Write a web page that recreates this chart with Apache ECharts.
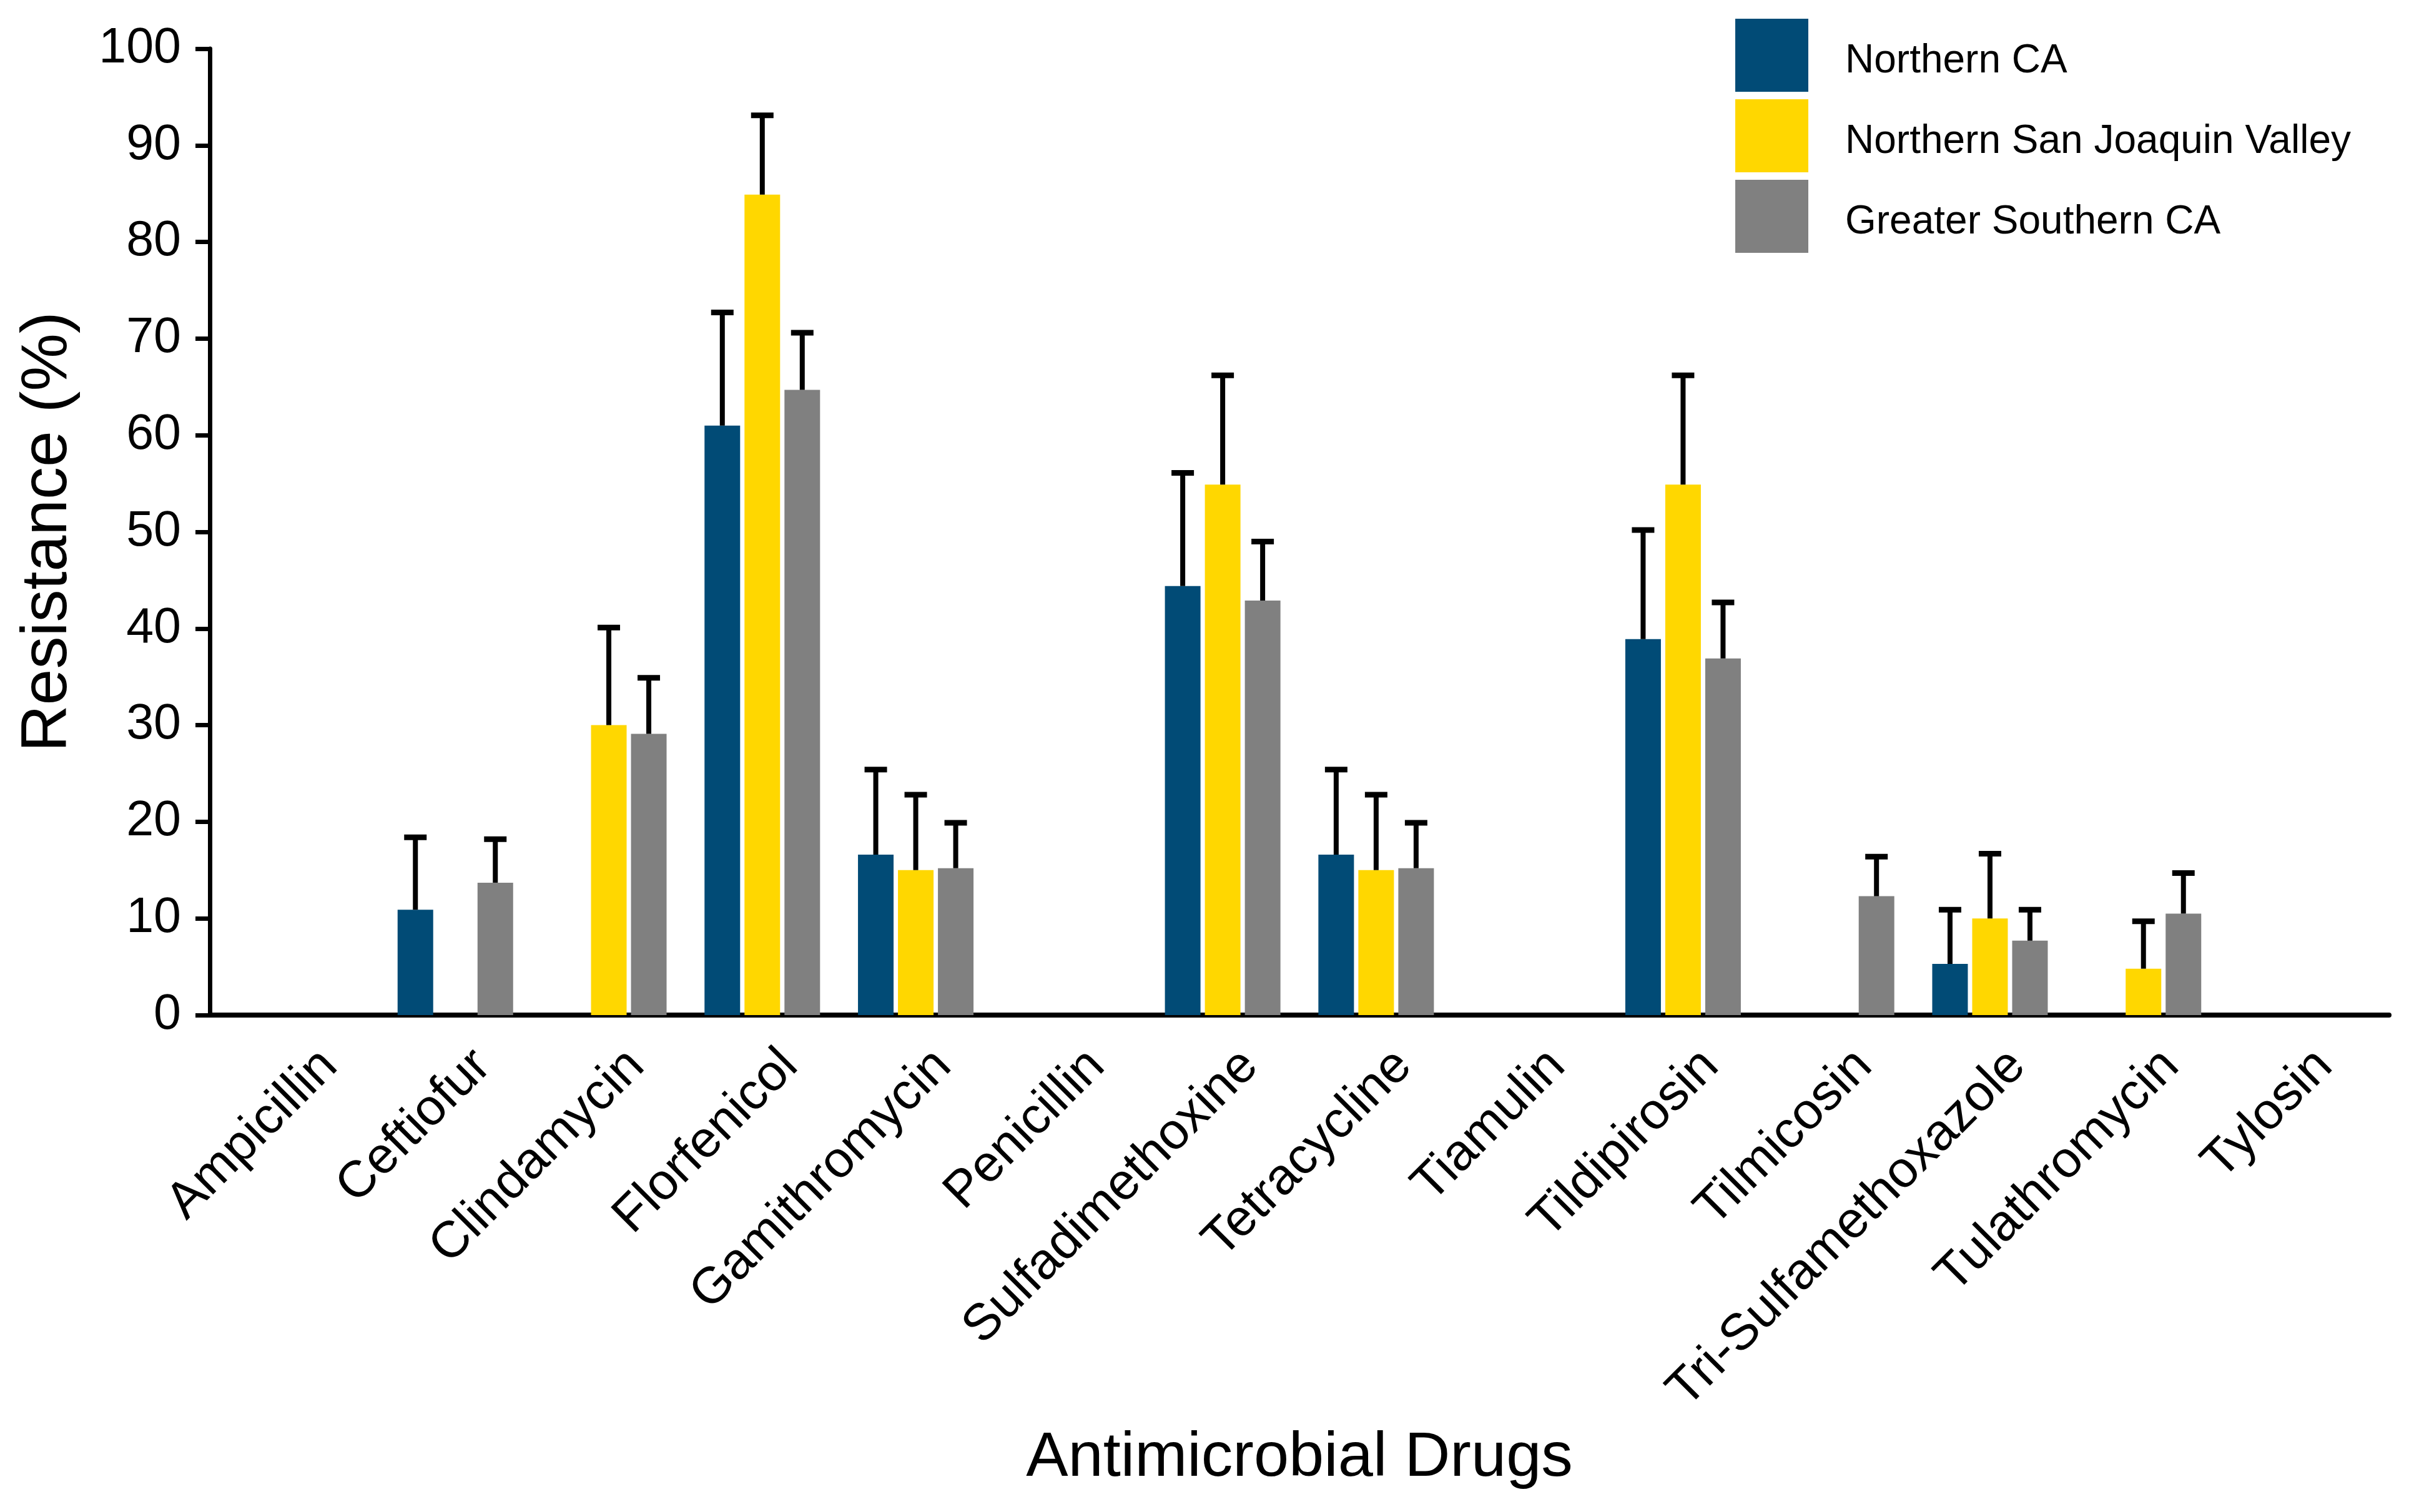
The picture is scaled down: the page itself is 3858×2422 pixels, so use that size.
<!DOCTYPE html>
<html>
<head>
<meta charset="utf-8">
<style>
  html, body { margin: 0; padding: 0; background: #ffffff; }
  #chart { width: 3858px; height: 2422px; }
</style>
<script src="https://cdn.jsdelivr.net/npm/echarts@6/dist/echarts.min.js"></script>
</head>
<body>
<div id="chart"></div>
<script>
// ---- Data ----
const categories = ['Ampicillin', 'Ceftiofur', 'Clindamycin', 'Florfenicol', 'Gamithromycin', 'Penicillin',
  'Sulfadimethoxine', 'Tetracycline', 'Tiamulin', 'Tildipirosin', 'Tilmicosin', 'Tri-Sulfamethoxazole',
  'Tulathromycin', 'Tylosin'];
const seriesNames = ['Northern CA', 'Northern San Joaquin Valley', 'Greater Southern CA'];

const northernCA      = [0, 10.9, 0,    61.0, 16.6, 0, 44.4, 16.6, 0, 38.9, 0,    5.3,  0,    0];
const northernCAUpper = [0, 18.4, 0,    72.7, 25.4, 0, 56.1, 25.4, 0, 50.2, 0,    10.9, 0,    0];
const nsjv            = [0, 0,    30.0, 84.9, 15.0, 0, 54.9, 15.0, 0, 54.9, 0,    10.0, 4.8,  0];
const nsjvUpper       = [0, 0,    40.1, 93.1, 22.8, 0, 66.2, 22.8, 0, 66.2, 0,    16.7, 9.7,  0];
const gsca            = [0, 13.7, 29.1, 64.7, 15.2, 0, 42.9, 15.2, 0, 36.9, 12.3, 7.7,  10.5, 0];
const gscaUpper       = [0, 18.2, 34.9, 70.6, 19.9, 0, 49.0, 19.9, 0, 42.7, 16.4, 10.9, 14.7, 0];

const yTicks = { min: 0, max: 100, interval: 10 };

// ---- Styles ----
const colors = ['#014B76', '#FFD700', '#808080'];
const FONT = "'Liberation Sans', Arial, sans-serif";
const BAR_W = 57;
const BAR_GAP = 7;

const values = [northernCA, nsjv, gsca];
const uppers = [northernCAUpper, nsjvUpper, gscaUpper];

const barSeries = seriesNames.map((name, k) => ({
  name: name,
  type: 'bar',
  xAxisIndex: 1,
  yAxisIndex: 1,
  data: values[k],
  barWidth: BAR_W,
  barGap: (BAR_GAP / BAR_W * 100).toFixed(1) + '%',
  itemStyle: { color: colors[k] },
  emphasis: { disabled: true },
  z: 2
}));

const errSeries = seriesNames.map((name, k) => ({
  name: 'err-' + k,
  type: 'custom',
  xAxisIndex: 1,
  yAxisIndex: 1,
  z: 3,
  silent: true,
  encode: { x: 0, y: [1, 2] },
  data: categories.map((c, i) => [i, values[k][i], uppers[k][i]]),
  renderItem: function (params, api) {
    const v = api.value(1), u = api.value(2);
    if (!(u > v)) return null;
    const off = (k - 1) * (BAR_W + BAR_GAP);
    const p0 = api.coord([api.value(0), v]);
    const p1 = api.coord([api.value(0), u]);
    const x = p0[0] + off;
    const half = 18;
    return {
      type: 'group',
      children: [
        { type: 'line', shape: { x1: x, y1: p0[1], x2: x, y2: p1[1] }, style: { stroke: '#000', lineWidth: 8 } },
        { type: 'line', shape: { x1: x - half, y1: p1[1], x2: x + half, y2: p1[1] }, style: { stroke: '#000', lineWidth: 9 } }
      ]
    };
  }
}));

const chart = echarts.init(document.getElementById('chart'), null, { renderer: 'canvas' });
chart.setOption({
  animation: false,
  backgroundColor: '#ffffff',
  textStyle: { fontFamily: FONT },
  legend: {
    data: seriesNames,
    orient: 'vertical',
    left: 2779,
    top: 30,
    padding: 0,
    itemWidth: 117,
    itemHeight: 117,
    itemGap: 12,
    icon: 'rect',
    selectedMode: false,
    formatter: function (name) { return '{t|' + name + '}'; },
    textStyle: {
      fontFamily: FONT, fontSize: 64, color: '#000',
      rich: { t: { fontFamily: FONT, fontSize: 64, color: '#000', padding: [20, 0, 0, 54] } }
    }
  },
  grid: [
    { left: 336, right: 32, top: 78, bottom: 796 },
    { left: 360.6, right: 56.6, top: 78, bottom: 796 },
    { left: 404.6, right: 12.6, top: 78, bottom: 796 }
  ],
  xAxis: [
    {
      gridIndex: 0, type: 'value', min: 0.4, max: 14.6,
      axisLine: { show: true, lineStyle: { color: '#000', width: 8 } },
      axisTick: { show: false }, axisLabel: { show: false }, splitLine: { show: false },
      name: 'Antimicrobial Drugs', nameLocation: 'middle', nameGap: 660,
      nameTextStyle: { fontFamily: FONT, fontSize: 101, color: '#000' }
    },
    {
      gridIndex: 1, type: 'category', data: categories,
      axisLine: { show: false }, axisTick: { show: false }, axisLabel: { show: false }
    },
    {
      gridIndex: 2, type: 'category', data: categories,
      axisLine: { show: false }, axisTick: { show: false },
      axisLabel: { show: true, interval: 0, rotate: 45, margin: 69, fontFamily: FONT, fontSize: 82, color: '#000' }
    }
  ],
  yAxis: [
    {
      gridIndex: 0, type: 'value', min: yTicks.min, max: yTicks.max, interval: yTicks.interval,
      axisLine: { show: true, lineStyle: { color: '#000', width: 7 } },
      axisTick: { show: true, length: 23, lineStyle: { color: '#000', width: 7 } },
      axisLabel: { show: true, margin: 46, fontFamily: FONT, fontSize: 79, color: '#000' },
      splitLine: { show: false },
      name: 'Resistance (%)', nameLocation: 'middle', nameGap: 207, nameRotate: 90,
      nameTextStyle: { fontFamily: FONT, fontSize: 104, color: '#000' }
    },
    {
      gridIndex: 1, type: 'value', min: yTicks.min, max: yTicks.max,
      axisLine: { show: false }, axisTick: { show: false }, axisLabel: { show: false }, splitLine: { show: false }
    },
    {
      gridIndex: 2, type: 'value', min: 0, max: 1,
      axisLine: { show: false }, axisTick: { show: false }, axisLabel: { show: false }, splitLine: { show: false }
    }
  ],
  series: barSeries.concat(errSeries)
});
</script>
</body>
</html>
